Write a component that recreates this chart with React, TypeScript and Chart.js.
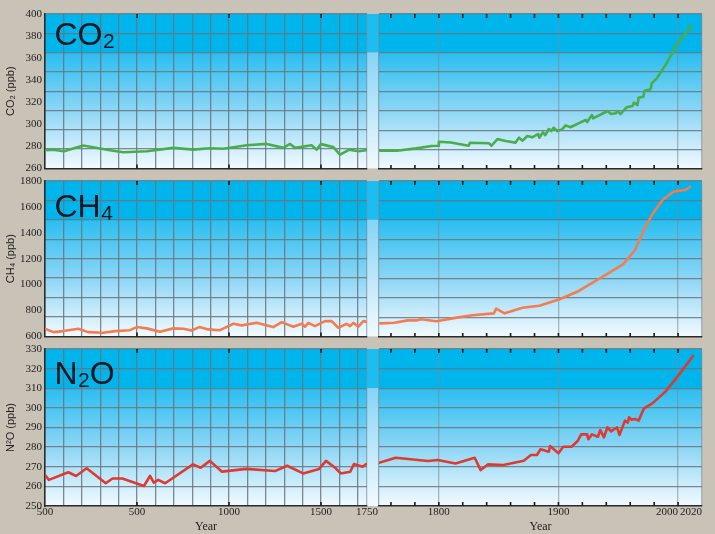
import React, { useEffect, useRef } from 'react';
import { Chart, registerables } from 'chart.js';

Chart.register(...registerables);

// ---------------- DATA ----------------
const co2LeftYears = [0, 45, 103, 208, 299, 353, 426, 553, 697, 806, 897, 969, 1096, 1205, 1295, 1332, 1359, 1449, 1476, 1500, 1567, 1603, 1654, 1703, 1745];
const co2LeftValues = [276.5, 277, 275.6, 280.8, 278, 276.5, 274.7, 275.6, 278.6, 277, 278.3, 277.8, 281, 282.2, 278.6, 282.2, 278.6, 281, 277, 282, 279.3, 272.4, 277, 275.6, 276.5];
const co2RightYears = [1751, 1765, 1781, 1794, 1799.5, 1800, 1810, 1825, 1826, 1842, 1844, 1849, 1856, 1864, 1867, 1870, 1874, 1878, 1883, 1884, 1887, 1889, 1892, 1894, 1896, 1899, 1903, 1906, 1910, 1919, 1923, 1924, 1928, 1929, 1941, 1944, 1948, 1949, 1952, 1957, 1962, 1963, 1966, 1967, 1971, 1972, 1977, 1978, 1982, 1990, 1998, 2011];
const co2RightValues = [276.5, 276.5, 278.6, 280.8, 281, 284.6, 284, 281, 283.7, 283.2, 281, 287, 285.3, 283.8, 288.3, 285.6, 289.8, 288.6, 291.6, 288.3, 293.1, 290.7, 296.1, 294.3, 297.3, 294.3, 295.8, 299.4, 297.7, 302.4, 304.2, 302.4, 308.8, 305.8, 312.4, 309.7, 310.3, 312.4, 309.7, 315.7, 316.9, 319.9, 317.8, 324.4, 325.3, 330.7, 332, 337.4, 341.6, 354.8, 370.5, 389.5];

const ch4LeftYears = [0, 45, 100, 181, 235, 317, 380, 462, 498, 553, 625, 697, 752, 797, 839, 888, 951, 1024, 1069, 1151, 1186, 1241, 1286, 1349, 1395, 1413, 1431, 1467, 1522, 1558, 1594, 1640, 1658, 1676, 1703, 1730, 1745];
const ch4LeftValues = [659, 633, 641, 659, 633, 628, 641, 648, 672, 662, 636, 662, 659, 646, 672, 654, 648, 698, 685, 705, 692, 672, 710, 675, 698, 675, 705, 679, 718, 718, 667, 698, 679, 705, 675, 718, 713];
const ch4RightYears = [1751, 1763, 1774, 1782, 1785, 1798, 1815, 1828, 1846, 1848, 1855, 1870, 1884, 1901, 1917, 1937, 1954, 1964, 1972, 1979, 1987, 1996, 2001, 2006, 2010];
const ch4RightValues = [705, 710, 728, 728, 736, 721, 749, 767, 782, 818, 782, 825, 841, 890, 954, 1064, 1159, 1269, 1436, 1551, 1654, 1718, 1726, 1731, 1756];

const n2oLeftYears = [0, 21, 127, 169, 226, 301, 330, 367, 420, 538, 571, 591, 615, 653, 804, 846, 896, 962, 1093, 1250, 1316, 1403, 1490, 1527, 1577, 1607, 1659, 1679, 1726, 1746];
const n2oLeftValues = [265.8, 263.3, 267.2, 265.3, 269.2, 263.8, 261.6, 264, 264, 260.2, 265.4, 261.9, 263.3, 261.6, 271.2, 269.5, 273, 267.5, 268.9, 267.8, 270.5, 266.6, 268.9, 273, 269.5, 266.6, 267.5, 271.4, 270, 271.4];
const n2oRightYears = [1750, 1764, 1791, 1799, 1814, 1830, 1835, 1841, 1854, 1871, 1877, 1882, 1885, 1892, 1893, 1900, 1904, 1911, 1916, 1919, 1924, 1925, 1928, 1933, 1935, 1938, 1941, 1944, 1949, 1951, 1955.6, 1958, 1959, 1961, 1964, 1967, 1971.5, 1978.5, 1989.5, 2000.6, 2012.5];
const n2oRightValues = [272, 274.6, 272.9, 273.4, 271.7, 274.6, 268.3, 271.2, 270.9, 273.1, 276, 276, 278.9, 277.7, 280.6, 276.9, 280.2, 280.2, 283.1, 286.5, 286.5, 284, 286.5, 285.3, 288.7, 285, 290.1, 288, 290.1, 286.2, 293.5, 292.5, 295.2, 294, 294.3, 293.5, 299.8, 302.3, 308.3, 316.8, 326.4];

// gases: names, axis titles, ranges
const gasFormulas = ['CO', 'CH', 'N'];
const gasSubscripts = ['2', '4', '2'];
const gasSuffixes = ['', '', 'O'];
const gasAxisTitles = ['CO₂ (ppb)', 'CH₄ (ppb)', 'N²O (ppb)'];
const gasMin = [260, 600, 250];
const gasMax = [400, 1800, 330];
const gasStep = [20, 200, 10];
const gasColors = ['#49ad4c', '#f47c50', '#de3a30'];

// x axis tick data
const leftGridYears = [0, 100, 200, 300, 400, 500, 600, 700, 800, 900, 1000, 1100, 1200, 1300, 1400, 1500, 1600, 1700, 1750];
const leftLabelYears = [0, 500, 1000, 1500, 1750];
const leftLabelTexts = ['500', '500', '1000', '1500', '1750'];
const leftMarkYears = [500, 1000, 1500];
const rightGridYears = [1750, 1800, 1900, 2000, 2020];
const rightCenterLabelYears = [1800, 1900];
const rightEndLabelYears = [2000, 2020];
const rightMarkYears = [1760, 1780, 1800, 1820, 1840, 1860, 1880, 1900, 1920, 1940, 1960, 1980, 2000];

const seriesYears = [[co2LeftYears, co2RightYears], [ch4LeftYears, ch4RightYears], [n2oLeftYears, n2oRightYears]];
const seriesValues = [[co2LeftValues, co2RightValues], [ch4LeftValues, ch4RightValues], [n2oLeftValues, n2oRightValues]];

// ---------------- STYLE / LAYOUT ----------------
const PAGE_BG = '#c9c2b6';
const GRID = 'rgba(105,118,126,0.85)';
const GRID_LIGHT = 'rgba(125,140,150,0.6)';
const TEXT = '#1e1e1e';
const SERIF = '"Liberation Serif"';
const SANS = '"Liberation Sans"';
const PLOT_TOPS = [14, 181, 349];
const PLOT_HEIGHTS = [155, 156, 157];
const PAD_TOP = 10;
const PAD_BOTTOM = 9;
const X_AXIS_H = 28;

function bgPlugin(withStrip: boolean) {
  return {
    id: 'panelBg',
    beforeDraw(chart: any) {
      const { ctx, chartArea } = chart;
      const { left, right, top, bottom } = chartArea;
      const h = bottom - top;
      const band = top + (h * 2) / 8;
      ctx.save();
      ctx.fillStyle = '#00b4ec';
      ctx.fillRect(left, top, right - left, band - top);
      const g = ctx.createLinearGradient(0, band, 0, bottom);
      g.addColorStop(0, '#2abef0');
      g.addColorStop(0.5, '#8dd6f5');
      g.addColorStop(1, '#f3faff');
      ctx.fillStyle = g;
      ctx.fillRect(left, band, right - left, bottom - band);
      if (withStrip) {
        const sx = right;
        const sw = 12;
        ctx.fillStyle = '#1ebdf1';
        ctx.fillRect(sx, top, sw, band - top);
        const g2 = ctx.createLinearGradient(0, band, 0, bottom);
        g2.addColorStop(0, '#86d4f5');
        g2.addColorStop(1, '#f3faff');
        ctx.fillStyle = g2;
        ctx.fillRect(sx, band, sw, bottom - band);
        ctx.strokeStyle = GRID_LIGHT;
        ctx.lineWidth = 1.3;
        ctx.beginPath();
        ctx.moveTo(sx + sw, top);
        ctx.lineTo(sx + sw, bottom);
        ctx.stroke();
      }
      ctx.restore();
    },
  };
}

function marksPlugin(years: number[]) {
  return {
    id: 'innerMarks',
    beforeDatasetsDraw(chart: any) {
      const { ctx, chartArea } = chart;
      const xs = chart.scales.x;
      ctx.save();
      ctx.strokeStyle = '#1a1a1a';
      ctx.lineWidth = 1.6;
      ctx.beginPath();
      years.forEach((v) => {
        const px = xs.getPixelForValue(v);
        ctx.moveTo(px, chartArea.top);
        ctx.lineTo(px, chartArea.top + 4);
        ctx.moveTo(px, chartArea.bottom);
        ctx.lineTo(px, chartArea.bottom - 4);
      });
      ctx.stroke();
      ctx.restore();
    },
  };
}

function formulaPlugin(row: number) {
  const baselines = [31, 36, 35];
  return {
    id: 'formula',
    afterDraw(chart: any) {
      const { ctx, chartArea } = chart;
      const x0 = chartArea.left + 9.5;
      const y0 = chartArea.top + baselines[row];
      ctx.save();
      ctx.fillStyle = '#0c1822';
      ctx.textBaseline = 'alphabetic';
      ctx.textAlign = 'left';
      ctx.font = `32px ${SANS}`;
      const main = gasFormulas[row];
      ctx.fillText(main, x0, y0);
      let x = x0 + ctx.measureText(main).width;
      ctx.font = `21px ${SANS}`;
      ctx.fillText(gasSubscripts[row], x + 0.5, y0 + 3);
      x += ctx.measureText(gasSubscripts[row]).width + 0.5;
      if (gasSuffixes[row]) {
        ctx.font = `32px ${SANS}`;
        ctx.fillText(gasSuffixes[row], x, y0);
      }
      ctx.restore();
    },
  };
}

function ygScale() {
  return {
    type: 'linear',
    position: 'right',
    min: 0,
    max: 8,
    ticks: { display: false, stepSize: 1 },
    grid: {
      color: (c: any) => (c.tick && c.tick.value === 0 ? 'rgba(0,0,0,0)' : GRID),
      lineWidth: 1.3,
      drawTicks: false,
    },
    border: { display: false },
    afterFit: (s: any) => {
      s.width = 0;
    },
  };
}

function makeConfig(row: number, side: number): any {
  const isBottom = row === 2;
  const years = seriesYears[row][side];
  const values = seriesValues[row][side];
  const data = years.map((yr, i) => ({ x: yr, y: values[i] }));
  const tickFont = { family: SERIF, size: 11 };
  const titleCfg = { display: isBottom, text: 'Year', color: TEXT, font: { family: SERIF, size: 12 }, padding: { top: 0, bottom: 0 } };
  const dataset = {
    data,
    borderColor: gasColors[row],
    borderWidth: 2.6,
    pointRadius: 0,
    tension: 0,
    borderJoinStyle: 'round',
    borderCapStyle: 'round',
    fill: false,
  };
  const common: any = {
    type: 'line',
    data: { datasets: [dataset] },
    options: {
      animation: false,
      responsive: true,
      maintainAspectRatio: false,
      events: [],
      plugins: { legend: { display: false }, tooltip: { enabled: false }, title: { display: false } },
    },
  };

  if (side === 0) {
    common.options.layout = { padding: { left: 0, right: 12, top: PAD_TOP, bottom: isBottom ? 0 : PAD_BOTTOM } };
    common.options.scales = {
      x: {
        type: 'linear',
        min: 0,
        max: 1750,
        afterBuildTicks: (s: any) => {
          s.ticks = leftGridYears.map((v) => ({ value: v }));
        },
        ticks: {
          display: isBottom,
          autoSkip: false,
          maxRotation: 0,
          padding: 0,
          font: tickFont,
          color: TEXT,
          callback: (v: any) => {
            const i = leftLabelYears.indexOf(Number(v));
            return i >= 0 ? leftLabelTexts[i] : '';
          },
        },
        grid: {
          color: (c: any) => (c.tick && c.tick.value === 0 ? 'rgba(0,0,0,0)' : c.tick && c.tick.value === 1750 ? GRID_LIGHT : GRID),
          lineWidth: 1.3,
          drawTicks: false,
        },
        border: { display: true, color: '#2b2b2b', width: 1.6 },
        title: titleCfg,
        afterFit: (s: any) => {
          s.height = isBottom ? X_AXIS_H : 0;
        },
      },
      y: {
        type: 'linear',
        position: 'left',
        min: gasMin[row],
        max: gasMax[row],
        ticks: { stepSize: gasStep[row], font: tickFont, color: TEXT, padding: 3, callback: (v: any) => String(v) },
        grid: { display: false, drawTicks: false },
        border: { display: true, color: '#2b2b2b', width: 1.6 },
        title: {
          display: true,
          text: gasAxisTitles[row],
          color: TEXT,
          font: { family: SANS, size: 11 },
          padding: { top: 4, bottom: 0 },
        },
        afterFit: (s: any) => {
          s.width = 45;
        },
      },
      yg: ygScale(),
    };
    common.plugins = [bgPlugin(true), marksPlugin(leftMarkYears), formulaPlugin(row)];
  } else {
    common.options.layout = { padding: { left: 10, right: 13, top: PAD_TOP, bottom: isBottom ? 0 : PAD_BOTTOM } };
    const scales: any = {
      x: {
        type: 'linear',
        min: 1750,
        max: 2020,
        afterBuildTicks: (s: any) => {
          s.ticks = rightGridYears.map((v) => ({ value: v }));
        },
        ticks: {
          display: isBottom,
          autoSkip: false,
          maxRotation: 0,
          padding: 0,
          font: tickFont,
          color: TEXT,
          callback: (v: any) => (rightCenterLabelYears.indexOf(Number(v)) >= 0 ? String(v) : ''),
        },
        grid: { color: GRID_LIGHT, lineWidth: 1.3, drawTicks: false },
        border: { display: true, color: '#2b2b2b', width: 1.6 },
        title: titleCfg,
        afterFit: (s: any) => {
          s.height = isBottom ? X_AXIS_H : 0;
        },
      },
      y: {
        type: 'linear',
        display: false,
        min: gasMin[row],
        max: gasMax[row],
      },
      yg: ygScale(),
    };
    if (isBottom) {
      scales.x2 = {
        type: 'linear',
        position: { y: gasMin[row] },
        min: 1750,
        max: 2020,
        afterBuildTicks: (s: any) => {
          s.ticks = rightEndLabelYears.map((v) => ({ value: v }));
        },
        ticks: {
          autoSkip: false,
          maxRotation: 0,
          align: 'end',
          padding: 0,
          font: tickFont,
          color: TEXT,
          callback: (v: any) => String(v),
        },
        grid: { display: false, drawTicks: false },
        border: { display: false },
        afterFit: (s: any) => {
          s.height = 0;
        },
      };
    }
    common.options.scales = scales;
    common.plugins = [bgPlugin(false), marksPlugin(rightMarkYears)];
  }
  return common;
}

function ChartBox(props: { row: number; side: number }) {
  const { row, side } = props;
  const ref = useRef<HTMLCanvasElement | null>(null);
  useEffect(() => {
    if (!ref.current) return;
    const chart = new Chart(ref.current, makeConfig(row, side));
    return () => chart.destroy();
  }, [row, side]);
  const isBottom = row === 2;
  const top = PLOT_TOPS[row] - PAD_TOP;
  const height = PAD_TOP + PLOT_HEIGHTS[row] + (isBottom ? X_AXIS_H : PAD_BOTTOM);
  const left = side === 0 ? 0 : 369;
  const width = side === 0 ? 379 : 346;
  return (
    <div style={{ position: 'absolute', left, top, width, height }}>
      <canvas ref={ref} />
    </div>
  );
}

export default function App() {
  return (
    <div
      style={{
        position: 'absolute',
        left: 0,
        top: 0,
        width: 715,
        height: 534,
        background: PAGE_BG,
        overflow: 'hidden',
      }}
    >
      {[0, 1, 2].map((row) => (
        <React.Fragment key={row}>
          <ChartBox row={row} side={0} />
          <ChartBox row={row} side={1} />
        </React.Fragment>
      ))}
    </div>
  );
}
